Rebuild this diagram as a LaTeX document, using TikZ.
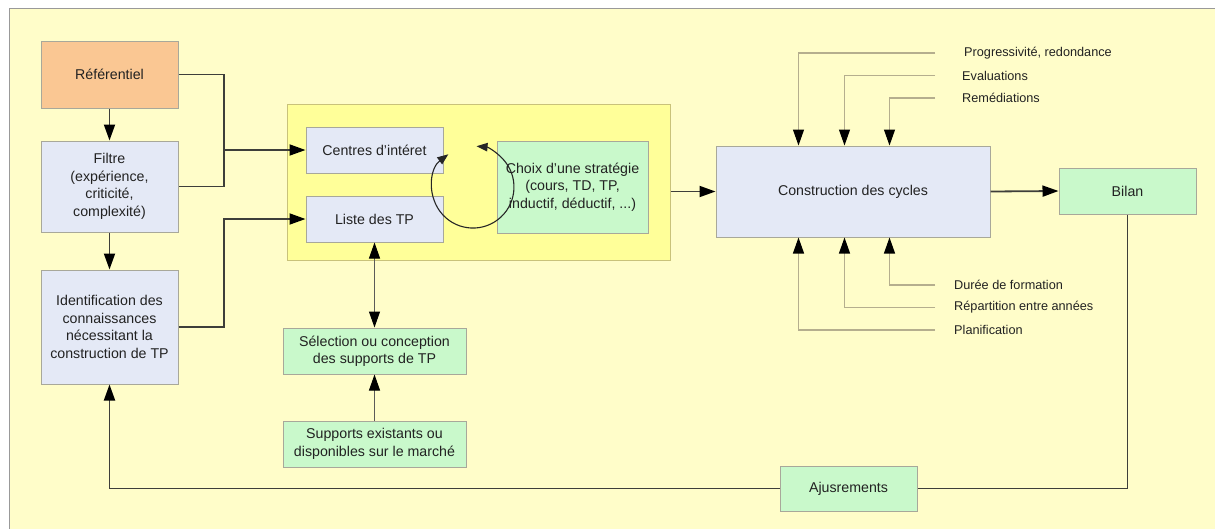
\documentclass[tikz,border=0pt]{standalone}
\usepackage{fontspec}
\setmainfont{Liberation Sans}
\usetikzlibrary{arrows.meta,calc}
\definecolor{bgyel}{HTML}{FFFDC9}
\definecolor{contyel}{HTML}{FFFF99}
\definecolor{contline}{HTML}{C9C27A}
\definecolor{boxblue}{HTML}{E4E9F6}
\definecolor{boxgreen}{HTML}{C9F9CB}
\definecolor{boxorange}{HTML}{FAC793}
\definecolor{boxline}{HTML}{A8A89A}
\definecolor{conn}{HTML}{3E3E3A}
\definecolor{sideline}{HTML}{B5AE8E}
\definecolor{txt}{HTML}{222222}
\begin{document}
\begin{tikzpicture}[x=1pt,y=-1pt,
  >={Triangle[length=16pt,width=11pt,black]},
  box/.style={draw=boxline,line width=1pt,text=txt,align=center,inner sep=0pt,
    font=\fontsize{14.2}{17.5}\selectfont},
  bluebox/.style={box,fill=boxblue},
  greenbox/.style={box,fill=boxgreen},
  orangebox/.style={box,fill=boxorange},
  sidelabel/.style={text=txt,inner sep=0pt,anchor=west,font=\fontsize{12.7}{15}\selectfont},
  conn/.style={draw=conn,line width=1.8pt},
  side/.style={draw=sideline,line width=1.1pt,->},
  thin/.style={draw=conn!85,line width=1pt}
]
\useasboundingbox (0,0) rectangle (1215,528);
\fill[white] (0,0) rectangle (1215,528);
\fill[bgyel,draw=gray!80,line width=1pt] (9,8) rectangle (1230,540);

% container
\node[draw=contline,fill=contyel,line width=1pt,minimum width=383pt,minimum height=156pt,inner sep=0pt] (cont) at (478.5,182) {};

% left column
\node[orangebox,minimum width=137pt,minimum height=67pt] (ref) at (109.5,74.5) {Référentiel};
\node[bluebox,minimum width=137pt,minimum height=91pt] (filtre) at (109.5,186.5) {Filtre\\(expérience,\\criticité,\\complexité)};
\node[bluebox,minimum width=137pt,minimum height=114pt] (ident) at (109.5,327) {Identification des\\connaissances\\nécessitant la\\construction de TP};

% inside container
\node[bluebox,minimum width=137pt,minimum height=46pt] (centres) at (374.5,150) {Centres d’intéret};
\node[bluebox,minimum width=137pt,minimum height=46pt] (liste) at (374.5,219) {Liste des TP};
\node[greenbox,minimum width=151pt,minimum height=92pt] (choix) at (572.5,187) {Choix d’une stratégie\\(cours, TD, TP,\\inductif, déductif, ...)};

% lower middle
\node[greenbox,minimum width=183pt,minimum height=46pt] (sel) at (374.5,351) {Sélection ou conception\\des supports de TP};
\node[greenbox,minimum width=183pt,minimum height=46pt] (sup) at (374.5,444) {Supports existants ou\\disponibles sur le marché};

% right part
\node[bluebox,minimum width=274pt,minimum height=91pt] (cons) at (853,191.5) {Construction des cycles};
\node[greenbox,minimum width=137pt,minimum height=46pt] (bilan) at (1127.5,191) {Bilan};
\node[greenbox,minimum width=137pt,minimum height=45pt] (ajust) at (848.5,488.5) {Ajusrements};

% side labels
\node[sidelabel] (prog) at (964,53) {Progressivité, redondance};
\node[sidelabel] (eval) at (962,75.5) {Evaluations};
\node[sidelabel] (remed) at (962,98) {Remédiations};
\node[sidelabel] (duree) at (954,285) {Durée de formation};
\node[sidelabel] (repart) at (954,307.5) {Répartition entre années};
\node[sidelabel] (planif) at (954,330) {Planification};

\coordinate (jx) at (224,150);

% left connectors
\draw[conn] (ref.east) -- (ref.east -| jx) -- (filtre.east -| jx) -- (filtre.east);
\draw[conn,->] (jx) -- (centres.west);
\draw[conn,->] (ident.east) -- (ident.east -| jx) -- (liste.west -| jx) -- (liste.west);
\draw[conn,->] (ref.south) -- (filtre.north);
\draw[conn,->] (filtre.south) -- (ident.north);

% middle vertical
\draw[thin,<->] (liste.south) -- (sel.north);
\draw[thin,->] (sup.north) -- (sel.south);

% container to construction to bilan
\draw[conn,->] (cont.east |- cons.west) -- (cons.west);
\draw[conn,->] (cons.east) -- (bilan.west);

% feedback loop
\draw[conn] (bilan.south) -- (bilan.south |- ajust.east) -- (ajust.east);
\draw[conn,->] (ajust.west) -- (ajust.west -| ident.south) -- (ident.south);

% side inputs
\draw[side] ([xshift=-29pt]prog.west) -| ([xshift=83pt]cons.north west);
\draw[side] ([xshift=-27pt]eval.west) -| ([xshift=129pt]cons.north west);
\draw[side] ([xshift=-27pt]remed.west) -| ([xshift=174pt]cons.north west);
\draw[side] ([xshift=-19pt]duree.west) -| ([xshift=174pt]cons.south west);
\draw[side] ([xshift=-19pt]repart.west) -| ([xshift=129pt]cons.south west);
\draw[side] ([xshift=-19pt]planif.west) -| ([xshift=83pt]cons.south west);

% cycle arc
\coordinate (cyc) at (473,187);
\draw[draw=black!85,line width=1.1pt,{Triangle[length=11pt,width=8.5pt]}-{Triangle[length=11pt,width=8.5pt]}]
  ($(cyc)+(-24.7,-32.7)$) arc[start angle=233, end angle=-85, radius=41];
\end{tikzpicture}
\end{document}
